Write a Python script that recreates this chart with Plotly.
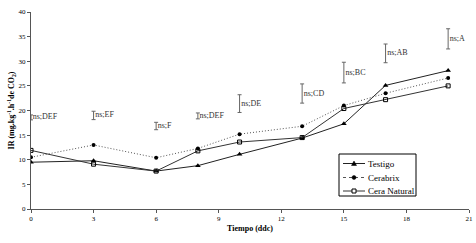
import plotly.graph_objects as go

dias = [0, 3, 6, 8, 10, 13, 15, 17, 20]
testigo = [9.5, 9.8, 7.7, 8.8, 11.1, 14.4, 17.3, 25.1, 28.1]
cerabrix = [10.5, 13.0, 10.4, 12.3, 15.2, 16.8, 21.0, 23.5, 26.6]
cera_natural = [11.9, 9.1, 7.7, 11.8, 13.6, 14.5, 20.4, 22.2, 25.0]

err_centro = [18.6, 19.0, 16.85, 18.9, 21.4, 23.45, 27.7, 31.6, 34.55]
err_mitad = [0.5, 0.85, 0.75, 0.6, 1.8, 1.95, 2.1, 1.9, 2.05]
err_etiquetas = ["ns;DEF", "ns;EF", "ns;F", "ns;DEF", "ns;DE", "ns;CD", "ns;BC", "ns;AB", "ns;A"]

series_nombres = ["Testigo", "Cerabrix", "Cera Natural"]

xticks = [0, 3, 6, 9, 12, 15, 18, 21]
yticks = [0, 5, 10, 15, 20, 25, 30, 35, 40]

FONT = "Liberation Serif, Times New Roman, serif"
W, H = 476, 243
ML, MR, MT, MB = 31, 7, 12, 34
PW, PH = W - ML - MR, H - MT - MB


def px(x):
    return (x - ML) / PW


def py(y):
    return (H - MB - y) / PH


estilos = [
    dict(line=dict(color="#222222", width=1),
         marker=dict(symbol="triangle-up", size=5, color="black")),
    dict(line=dict(color="#555555", width=1, dash="1px,2px"),
         marker=dict(symbol="circle", size=4, color="black")),
    dict(line=dict(color="#333333", width=1),
         marker=dict(symbol="square-open", size=4, color="black", line=dict(width=1))),
]

fig = go.Figure()
for nombre, vals, est in zip(series_nombres, [testigo, cerabrix, cera_natural], estilos):
    fig.add_trace(go.Scatter(x=dias, y=vals, name=nombre, mode="lines+markers",
                             showlegend=False, **est))

fig.add_trace(go.Scatter(
    x=dias, y=err_centro, mode="markers+text", showlegend=False,
    marker=dict(size=1, color="rgba(0,0,0,0)"),
    error_y=dict(type="data", array=err_mitad, color="#666666", thickness=1, width=2),
    text=err_etiquetas, textposition="middle right",
    textfont=dict(family=FONT, size=8, color="#333333"),
))

# manual compact legend (box, sample lines, sample markers, labels)
shapes = [dict(type="rect", xref="paper", yref="paper",
               x0=px(339), x1=px(416), y0=py(196), y1=py(154),
               line=dict(color="black", width=1), fillcolor="white", layer="above")]
annotations = []
fila_y = [163.5, 177.5, 191]
for i, (nombre, yy) in enumerate(zip(series_nombres, fila_y)):
    dash = "dot" if i == 1 else "solid"
    col = estilos[i]["line"]["color"]
    shapes.append(dict(type="line", xref="paper", yref="paper",
                       x0=px(343), x1=px(365), y0=py(yy), y1=py(yy),
                       line=dict(color=col, width=1, dash=dash), layer="above"))
    cx = 354
    if i == 0:
        path = "M {} {} L {} {} L {} {} Z".format(px(cx - 2.5), py(yy + 2), px(cx + 2.5), py(yy + 2),
                                                    px(cx), py(yy - 2.5))
        shapes.append(dict(type="path", xref="paper", yref="paper", path=path,
                           fillcolor="black", line=dict(color="black", width=0.5), layer="above"))
    elif i == 1:
        shapes.append(dict(type="circle", xref="paper", yref="paper",
                           x0=px(cx - 2), x1=px(cx + 2), y0=py(yy + 2), y1=py(yy - 2),
                           fillcolor="black", line=dict(color="black", width=0.5), layer="above"))
    else:
        shapes.append(dict(type="rect", xref="paper", yref="paper",
                           x0=px(cx - 2), x1=px(cx + 2), y0=py(yy + 2), y1=py(yy - 2),
                           fillcolor="white", line=dict(color="black", width=1), layer="above"))
    annotations.append(dict(xref="paper", yref="paper", x=px(366), y=py(yy),
                            xanchor="left", yanchor="middle", showarrow=False,
                            text=nombre, font=dict(family=FONT, size=9, color="black")))

fig.update_layout(
    width=W, height=H,
    margin=dict(l=ML, r=MR, t=MT, b=MB, autoexpand=False),
    paper_bgcolor="white", plot_bgcolor="white",
    font=dict(family=FONT, size=7, color="black"),
    showlegend=False,
    shapes=shapes,
    annotations=annotations,
    xaxis=dict(
        range=[0, 21], tickvals=xticks, ticktext=[str(t) for t in xticks],
        showgrid=False, zeroline=False, automargin=False,
        showline=True, linecolor="#555555", linewidth=1,
        ticks="outside", ticklen=3, tickcolor="#555555",
        tickfont=dict(family=FONT, size=7),
        title=dict(text="<b>Tiempo (ddc)</b>", font=dict(family=FONT, size=8), standoff=2),
    ),
    yaxis=dict(
        range=[0, 40], tickvals=yticks, showgrid=False, zeroline=False, automargin=False,
        showline=True, linecolor="#555555", linewidth=1,
        ticks="outside", ticklen=3, tickcolor="#555555",
        tickfont=dict(family=FONT, size=7),
        title=dict(text="<b>IR (mg.kg<sup>-1</sup>.h<sup>-1</sup>de CO<sub>2</sub>)</b>",
                   font=dict(family=FONT, size=8), standoff=2),
    ),
)

fig.write_html("out.html", config={"displayModeBar": False},
               post_script="document.body.style.margin='0';")
